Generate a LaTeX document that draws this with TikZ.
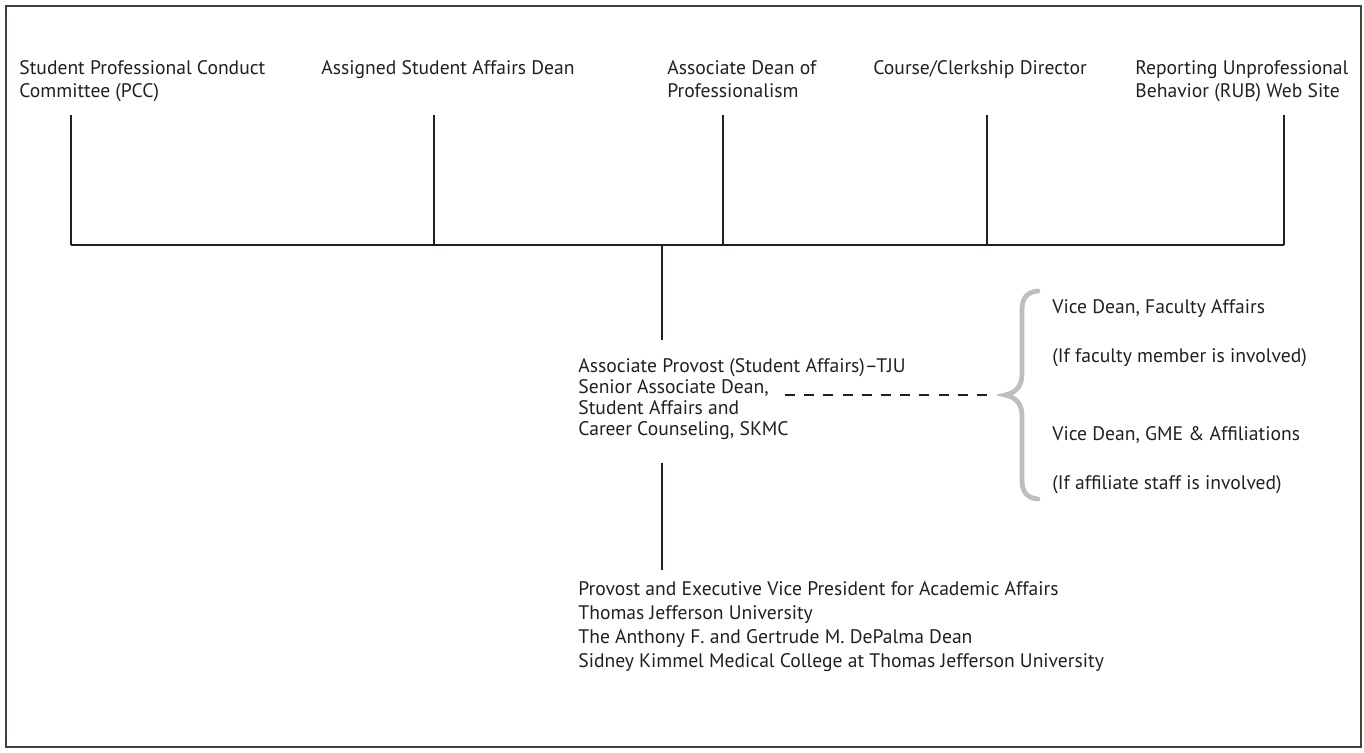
\documentclass[tikz,border=0pt]{standalone}
\usepackage{fontspec}
\setmainfont{PT Sans}
\definecolor{inkgray}{HTML}{231F20}
\definecolor{bracegray}{HTML}{BCBEC0}
\newlength\sadwidth
\begin{document}
\settowidth{\sadwidth}{\fontsize{9.8}{10.5}\selectfont Senior Associate Dean,}
\begin{tikzpicture}[x=0.5pt,y=-0.5pt,
  lbl/.style={anchor=north west,inner sep=0pt,align=left,text=inkgray,
    font=\fontsize{9.8}{11.8}\selectfont},
  conn/.style={draw=inkgray,line width=0.6pt},
  dashline/.style={draw=inkgray,line width=0.6pt,dash pattern=on 5pt off 4.6pt},
  bracepath/.style={draw=bracegray,line width=2.4pt,line cap=round},
  frame/.style={draw=inkgray!85,line width=1pt}]
\useasboundingbox (0,0) rectangle (1364,752);
\draw[frame] (6,6) rectangle (1361,747);

%% top row
\node[lbl] (pcc) at (19,60) {Student Professional Conduct\\Committee (PCC)};
\node[lbl] (asd) at (321,60) {Assigned Student Affairs Dean};
\node[lbl] (adp) at (667,60) {Associate Dean of\\Professionalism};
\node[lbl] (ccd) at (873,60) {Course/Clerkship Director};
\node[lbl] (rub) at (1135,60) {Reporting Unprofessional\\Behavior (RUB) Web Site};

\coordinate (tpcc) at (71,115);
\coordinate (tasd) at (434,115);
\coordinate (tadp) at (723,115);
\coordinate (tccd) at (987,115);
\coordinate (trub) at (1284,115);
\coordinate (bus) at (662,245);

\foreach \t in {tpcc,tasd,tadp,tccd,trub}{
  \draw[conn] (\t) -- (\t |- bus);
}
\draw[conn] (tpcc |- bus) -- (trub |- bus);

%% middle
\node[lbl,font=\fontsize{9.8}{10.6}\selectfont] (aprov) at (578,358)
  {Associate Provost (Student Affairs)--TJU\\Senior Associate Dean,\\Student Affairs and\\Career Counseling, SKMC};
\draw[conn] (bus) -- ([yshift=9pt]aprov.north -| bus);

%% bottom
\node[lbl,font=\fontsize{9.8}{12}\selectfont] (prov) at (578,581)
  {Provost and Executive Vice President for Academic Affairs\\Thomas Jefferson University\\The Anthony F. and Gertrude M. DePalma Dean\\Sidney Kimmel Medical College at Thomas Jefferson University};
\draw[conn] ([yshift=-11pt]aprov.south -| bus) -- ([yshift=5.5pt]prov.north -| bus);

%% brace and vice deans
\coordinate (btip) at (1005,395);
\coordinate (dstart) at ([xshift=\sadwidth+6pt]aprov.north west |- btip);
\draw[bracepath] (1038,291) .. controls (1027,292) and (1022,298) .. (1022,310)
  -- (1022,374) .. controls (1022,387) and (1015,393) .. (btip)
  .. controls (1015,397) and (1022,403) .. (1022,416)
  -- (1022,480) .. controls (1022,492) and (1027,498) .. (1038,499);
\draw[dashline] ([xshift=-9pt]btip) -- (dstart);

\node[lbl,font=\fontsize{9.8}{24.5}\selectfont] (vdfac) at (1052,299)
  {Vice Dean, Faculty Affairs\\(If faculty member is involved)};
\node[lbl,font=\fontsize{9.8}{24.5}\selectfont] (vdgme) at (1052,426)
  {Vice Dean, GME \& Affiliations\\(If affiliate staff is involved)};
\end{tikzpicture}
\end{document}
